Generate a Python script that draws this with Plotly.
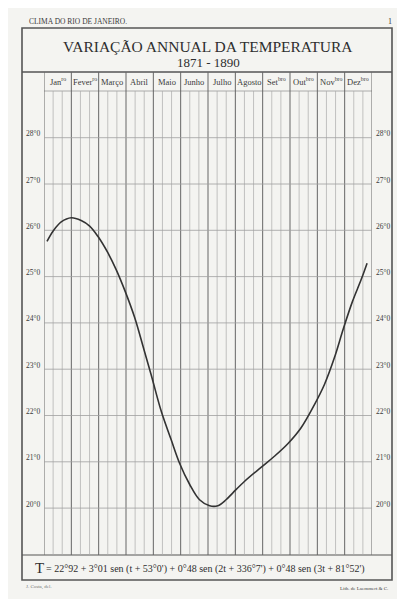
import plotly.graph_objects as go

# ---------------- data ----------------
months = ["Jan<sup>ro</sup>", "Fever<sup>ro</sup>", "Março", "Abril", "Maio", "Junho",
          "Julho", "Agosto", "Set<sup>bro</sup>", "Out<sup>bro</sup>", "Nov<sup>bro</sup>", "Dez<sup>bro</sup>"]
temp_ticks = [20, 21, 22, 23, 24, 25, 26, 27, 28]
temp_tick_labels = ["20°0", "21°0", "22°0", "23°0", "24°0", "25°0", "26°0", "27°0", "28°0"]

# curve: position in months (0 = start of January) and temperature
curve_month = [0.11, 0.33, 0.63, 1.00, 1.36, 1.67, 1.97, 2.34, 2.64, 2.97, 3.32, 3.62,
               3.92, 4.29, 4.65, 4.96, 5.33, 5.69, 6.06, 6.36, 6.66, 6.91, 7.34, 7.94,
               8.43, 8.92, 9.40, 9.89, 10.26, 10.62, 10.96, 11.29, 11.60, 11.82]
curve_temp = [25.76, 25.98, 26.18, 26.27, 26.21, 26.09, 25.87, 25.51, 25.15, 24.68, 24.11, 23.50,
              22.88, 22.09, 21.48, 20.97, 20.51, 20.18, 20.05, 20.05, 20.18, 20.33, 20.58, 20.88,
              21.12, 21.39, 21.73, 22.23, 22.67, 23.24, 23.89, 24.47, 24.93, 25.29]

header_left = "CLIMA DO RIO DE JANEIRO."
header_right = "1"
title_main = "VARIAÇÃO ANNUAL DA TEMPERATURA"
title_years = "1871 - 1890"
formula = "= 22°92 + 3°01 sen (t + 53°0') + 0°48 sen (2t + 336°7') + 0°48 sen (3t + 81°52')"
credit_left = "J. Costa, del."
credit_right = "Lith. de Laemmert & C."

# ---------------- layout geometry ----------------
W_PX, H_PX = 405, 599
L, R, T, B = 36, 41, 64, 52
PW = W_PX - L - R
PH = H_PX - T - B


def px(x):
    return (x - L) / PW


def py(y):
    return 1 - (y - T) / PH


PAPER = "#f4f4f1"
INK = "#3a3a3a"
SERIF = "Liberation Serif, DejaVu Serif, serif"

fig = go.Figure()
fig.add_trace(go.Scatter(
    x=curve_month, y=curve_temp, mode="lines",
    line=dict(color="#333333", width=1.6, shape="spline", smoothing=1.0),
    hoverinfo="skip", showlegend=False,
))

shapes = []
# outer frame
shapes.append(dict(type="rect", xref="paper", yref="paper",
                   x0=px(14), x1=px(384), y0=py(572), y1=py(20),
                   line=dict(color="#555555", width=1.6), layer="below"))
# title box bottom
shapes.append(dict(type="line", xref="paper", yref="paper",
                   x0=px(14), x1=px(384), y0=py(64), y1=py(64),
                   line=dict(color="#555555", width=1.4), layer="below"))
# formula box top
shapes.append(dict(type="line", xref="paper", yref="paper",
                   x0=px(14), x1=px(384), y0=py(547), y1=py(547),
                   line=dict(color="#555555", width=1.2), layer="below"))
# line under month row
shapes.append(dict(type="line", xref="paper", yref="paper",
                   x0=0, x1=1, y0=py(83), y1=py(83),
                   line=dict(color="#9a9a9a", width=0.8), layer="below"))
# month dividers (major) and thirds (minor)
n = len(months)
for i in range(n + 1):
    shapes.append(dict(type="line", xref="x", yref="paper", x0=i, x1=i, y0=0, y1=1,
                       line=dict(color="#666666", width=1.0), layer="below"))
    if i < n:
        for k in (1, 2):
            xv = i + k / 3
            shapes.append(dict(type="line", xref="x", yref="paper", x0=xv, x1=xv,
                               y0=0, y1=py(83),
                               line=dict(color="#aaaaaa", width=0.7), layer="below"))
# horizontal temperature lines
for t in temp_ticks:
    shapes.append(dict(type="line", xref="x", yref="y", x0=0, x1=n, y0=t, y1=t,
                       line=dict(color="#a0a0a0", width=0.8), layer="below"))

annotations = []
# header
annotations.append(dict(text=header_left, xref="paper", yref="paper", x=px(19), y=py(14),
                        xanchor="left", yanchor="middle", showarrow=False,
                        font=dict(family=SERIF, size=7.5, color=INK)))
annotations.append(dict(text=header_right, xref="paper", yref="paper", x=px(382), y=py(14),
                        xanchor="center", yanchor="middle", showarrow=False,
                        font=dict(family=SERIF, size=8, color=INK)))
# titles
annotations.append(dict(text=title_main, xref="paper", yref="paper", x=px(200), y=py(38.5),
                        xanchor="center", yanchor="middle", showarrow=False,
                        font=dict(family=SERIF, size=15.5, color="#2e2e2e")))
annotations.append(dict(text=title_years, xref="paper", yref="paper", x=px(200), y=py(54),
                        xanchor="center", yanchor="middle", showarrow=False,
                        font=dict(family=SERIF, size=13, color="#2e2e2e")))
# month labels
for i, m in enumerate(months):
    annotations.append(dict(text=m, xref="x", yref="paper", x=i + 0.5, y=py(74),
                            xanchor="center", yanchor="middle", showarrow=False,
                            font=dict(family=SERIF, size=8.5, color=INK)))
# temperature labels, both sides
for t, lab in zip(temp_ticks, temp_tick_labels):
    annotations.append(dict(text=lab, xref="paper", yref="y", x=px(25), y=t, yshift=4,
                            xanchor="center", yanchor="middle", showarrow=False,
                            font=dict(family=SERIF, size=7.5, color=INK)))
    annotations.append(dict(text=lab, xref="paper", yref="y", x=px(374.5), y=t, yshift=4,
                            xanchor="center", yanchor="middle", showarrow=False,
                            font=dict(family=SERIF, size=7.5, color=INK)))
# formula
annotations.append(dict(text="T", xref="paper", yref="paper", x=px(25), y=py(560),
                        xanchor="left", yanchor="middle", showarrow=False,
                        font=dict(family=SERIF, size=15, color="#2e2e2e")))
annotations.append(dict(text=formula, xref="paper", yref="paper", x=px(36), y=py(561),
                        xanchor="left", yanchor="middle", showarrow=False,
                        font=dict(family=SERIF, size=10, color="#2e2e2e")))
# credits
annotations.append(dict(text=credit_left, xref="paper", yref="paper", x=px(16), y=py(579),
                        xanchor="left", yanchor="middle", showarrow=False,
                        font=dict(family=SERIF, size=5, color="#777777")))
annotations.append(dict(text=credit_right, xref="paper", yref="paper", x=px(382), y=py(580),
                        xanchor="right", yanchor="middle", showarrow=False,
                        font=dict(family=SERIF, size=5, color="#444444")))

fig.update_layout(
    width=W_PX, height=H_PX,
    margin=dict(l=L, r=R, t=T, b=B, pad=0),
    paper_bgcolor=PAPER, plot_bgcolor=PAPER,
    xaxis=dict(range=[0, n], showgrid=False, zeroline=False, showticklabels=False,
               showline=False, ticks="", fixedrange=True),
    yaxis=dict(range=[18.987, 29.419], showgrid=False, zeroline=False, showticklabels=False,
               showline=False, ticks="", fixedrange=True),
    shapes=shapes, annotations=annotations, showlegend=False,
)

fig.write_html("out.html", config={"displayModeBar": False})
